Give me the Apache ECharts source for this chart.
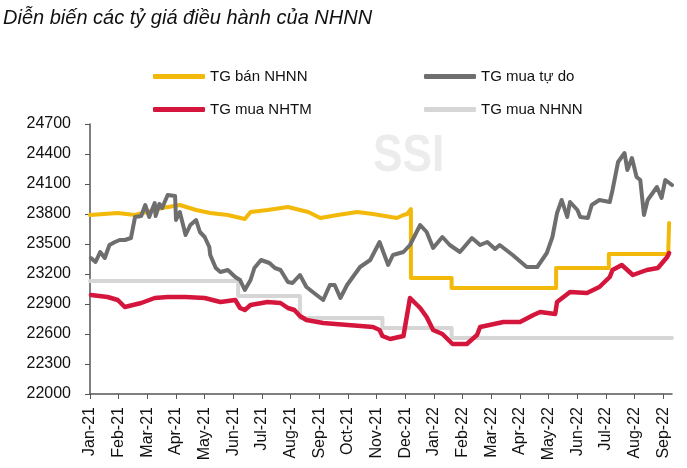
<!DOCTYPE html>
<html>
<head>
<meta charset="utf-8">
<script src="https://cdn.jsdelivr.net/npm/echarts@6/dist/echarts.min.js"></script>
<style>
html,body{margin:0;padding:0;background:#fff;}
#c{width:687px;height:468px;}
</style>
</head>
<body>
<div id="c"></div>
<script>
// ---- Data ----
var monthLabels = ['Jan-21','Feb-21','Mar-21','Apr-21','May-21','Jun-21','Jul-21','Aug-21','Sep-21','Oct-21','Nov-21','Dec-21',
  'Jan-22','Feb-22','Mar-22','Apr-22','May-22','Jun-22','Jul-22','Aug-22','Sep-22'];
var yTicks = {min: 22000, max: 24700, step: 300};

// TG bán NHNN (selling rate, SBV)
var banNHNN_dates = ['2021-01-01','2021-01-31','2021-02-17','2021-03-17','2021-04-05','2021-04-22','2021-05-07','2021-05-26','2021-06-13','2021-06-19','2021-07-07','2021-07-29','2021-08-11','2021-08-20','2021-09-02','2021-09-20','2021-10-11','2021-10-28','2021-11-22','2021-11-29','2021-12-03','2021-12-07','2021-12-07','2022-01-20','2022-01-20','2022-05-09','2022-05-09','2022-07-04','2022-07-04','2022-09-06','2022-09-07'];
var banNHNN_values = [23790,23810,23790,23860,23890,23840,23810,23790,23750,23820,23840,23870,23840,23820,23760,23790,23820,23800,23760,23790,23800,23850,23160,23160,23060,23060,23260,23260,23400,23400,23710];

// TG mua tự do (free market buying rate)
var tuDo_dates = ['2021-01-02','2021-01-07','2021-01-12','2021-01-17','2021-01-22','2021-01-28','2021-02-02','2021-02-07','2021-02-13','2021-02-17','2021-02-23','2021-02-27','2021-03-03','2021-03-09','2021-03-10','2021-03-14','2021-03-17','2021-03-23','2021-03-31','2021-04-01','2021-04-05','2021-04-11','2021-04-16','2021-04-22','2021-04-26','2021-05-01','2021-05-06','2021-05-07','2021-05-13','2021-05-18','2021-05-26','2021-06-03','2021-06-08','2021-06-13','2021-06-19','2021-06-23','2021-06-30','2021-07-09','2021-07-15','2021-07-21','2021-07-29','2021-08-03','2021-08-11','2021-08-18','2021-08-29','2021-09-05','2021-09-12','2021-09-17','2021-09-23','2021-09-30','2021-10-14','2021-10-25','2021-11-04','2021-11-13','2021-11-18','2021-11-29','2021-12-06','2021-12-17','2021-12-24','2021-12-31','2022-01-10','2022-01-18','2022-01-29','2022-02-10','2022-02-18','2022-02-25','2022-03-05','2022-03-10','2022-03-24','2022-04-08','2022-04-19','2022-04-29','2022-05-05','2022-05-10','2022-05-15','2022-05-21','2022-05-24','2022-06-01','2022-06-04','2022-06-12','2022-06-16','2022-06-24','2022-07-05','2022-07-08','2022-07-14','2022-07-21','2022-07-24','2022-07-29','2022-08-03','2022-08-07','2022-08-11','2022-08-15','2022-08-25','2022-08-30','2022-09-03','2022-09-10'];
var tuDo_values = [23360,23320,23420,23360,23490,23520,23540,23540,23560,23770,23780,23890,23770,23910,23780,23900,23860,23990,23980,23740,23820,23590,23690,23740,23620,23570,23470,23390,23260,23220,23240,23170,23140,23040,23140,23260,23340,23310,23260,23240,23120,23110,23190,23070,22990,22940,23090,23090,22960,23090,23270,23340,23520,23290,23390,23420,23490,23690,23620,23460,23570,23490,23420,23560,23490,23520,23450,23490,23390,23270,23270,23410,23570,23810,23940,23770,23920,23840,23770,23760,23890,23940,23920,24040,24320,24410,24240,24360,24170,24140,23790,23940,24070,23960,24140,24090];

// TG mua NHTM (commercial bank buying rate)
var nhtm_dates = ['2021-01-02','2021-01-20','2021-01-31','2021-02-07','2021-02-23','2021-03-09','2021-03-23','2021-04-11','2021-05-01','2021-05-18','2021-06-03','2021-06-08','2021-06-13','2021-06-19','2021-07-07','2021-07-21','2021-07-29','2021-08-05','2021-08-11','2021-08-18','2021-09-05','2021-10-01','2021-10-28','2021-11-04','2021-11-07','2021-11-15','2021-11-29','2021-12-06','2021-12-17','2021-12-24','2021-12-31','2022-01-10','2022-01-21','2022-02-05','2022-02-15','2022-02-18','2022-03-14','2022-04-01','2022-04-15','2022-04-22','2022-05-08','2022-05-10','2022-05-24','2022-06-11','2022-06-24','2022-07-05','2022-07-08','2022-07-18','2022-07-30','2022-08-14','2022-08-26','2022-09-05','2022-09-07'];
var nhtm_values = [22990,22970,22940,22870,22910,22960,22970,22970,22960,22920,22940,22860,22840,22890,22920,22910,22860,22840,22780,22740,22710,22690,22670,22640,22580,22550,22580,22960,22860,22770,22640,22600,22500,22500,22590,22670,22720,22720,22790,22820,22800,22920,23020,23010,23070,23170,23240,23290,23190,23240,23260,23370,23410];

// TG mua NHNN (buying rate, SBV) – step changes
var muaNHNN_dates = ['2021-01-01','2021-06-06','2021-06-06','2021-08-11','2021-08-11','2021-11-07','2021-11-07','2022-01-20','2022-01-20','2022-09-10'];
var muaNHNN_values = [23130,23130,22980,22980,22760,22760,22660,22660,22560,22560];

var seriesNames = ['TG bán NHNN','TG mua tự do','TG mua NHTM','TG mua NHNN'];
var seriesColors = ['#F2B80A','#6E6E6E','#D5163C','#D6D6D6'];

// ---- helpers ----
function monthPos(d){ // date string -> fractional month index from Jan-21
  var p = d.split('-'), y = +p[0], m = +p[1], day = +p[2];
  var dim = new Date(y, m, 0).getDate();
  return (y - 2021) * 12 + (m - 1) + (day - 1) / dim;
}
function pairs(dates, vals){ return dates.map(function(d,i){ return [monthPos(d), vals[i]]; }); }

var chart = echarts.init(document.getElementById('c'), null, {renderer:'canvas'});
var FONT = '"Liberation Sans", Arial, sans-serif';

function lineSeries(name, color, data, w, z){
  return {name:name, type:'line', data:data, showSymbol:false, symbol:'none', z:z,
    lineStyle:{color:color, width:w, cap:'round', join:'round'}, itemStyle:{color:color}, animation:false};
}

function legendAt(name, left, top){
  return {data:[{name:name, icon:'roundRect'}], left:left, top:top, padding:0, itemWidth:52, itemHeight:5,
    textStyle:{fontFamily:FONT, fontSize:15, color:'#111'}, selectedMode:false};
}

chart.setOption({
  backgroundColor:'#fff',
  animation:false,
  title:{text:'Diễn biến các tỷ giá điều hành của NHNN', left:3, top:8, padding:0,
    textStyle:{fontFamily:FONT, fontStyle:'italic', fontWeight:'normal', fontSize:20, color:'#111'}},
  graphic:[{type:'text', x:373, y:131, scaleX:0.85, z:0, silent:true,
    style:{text:'SSI', font:'bold 52px "Liberation Sans", Arial, sans-serif', fill:'#ECECEC'}}],
  legend:[legendAt(seriesNames[0],153,69), legendAt(seriesNames[1],424,69),
          legendAt(seriesNames[2],153,102), legendAt(seriesNames[3],424,102)],
  grid:{left:90, right:15, top:124, bottom:74, containLabel:false},
  xAxis:{type:'value', min:0, max:20.3, interval:1,
    axisLine:{show:true, lineStyle:{color:'#555', width:1.5}},
    axisTick:{show:true, length:5, lineStyle:{color:'#555'}},
    splitLine:{show:false},
    axisLabel:{rotate:90, margin:13, fontFamily:FONT, fontSize:16, color:'#111',
      showMaxLabel:false,
      formatter:function(v){ var i=Math.round(v); return (Math.abs(v-i)<1e-6 && monthLabels[i]) ? monthLabels[i] : ''; }}},
  yAxis:{type:'value', min:yTicks.min, max:yTicks.max, interval:yTicks.step,
    axisLine:{show:true, lineStyle:{color:'#555', width:1.5}},
    axisTick:{show:true, length:5, lineStyle:{color:'#555'}},
    splitLine:{show:false},
    axisLabel:{margin:19, fontFamily:FONT, fontSize:16, color:'#111', formatter:function(v){ return String(v); }}},
  series:[
    lineSeries(seriesNames[3], seriesColors[3], pairs(muaNHNN_dates, muaNHNN_values), 4, 2),
    lineSeries(seriesNames[0], seriesColors[0], pairs(banNHNN_dates, banNHNN_values), 4, 3),
    lineSeries(seriesNames[2], seriesColors[2], pairs(nhtm_dates, nhtm_values), 4.5, 4),
    lineSeries(seriesNames[1], seriesColors[1], pairs(tuDo_dates, tuDo_values), 4, 5)
  ]
});
</script>
</body>
</html>
